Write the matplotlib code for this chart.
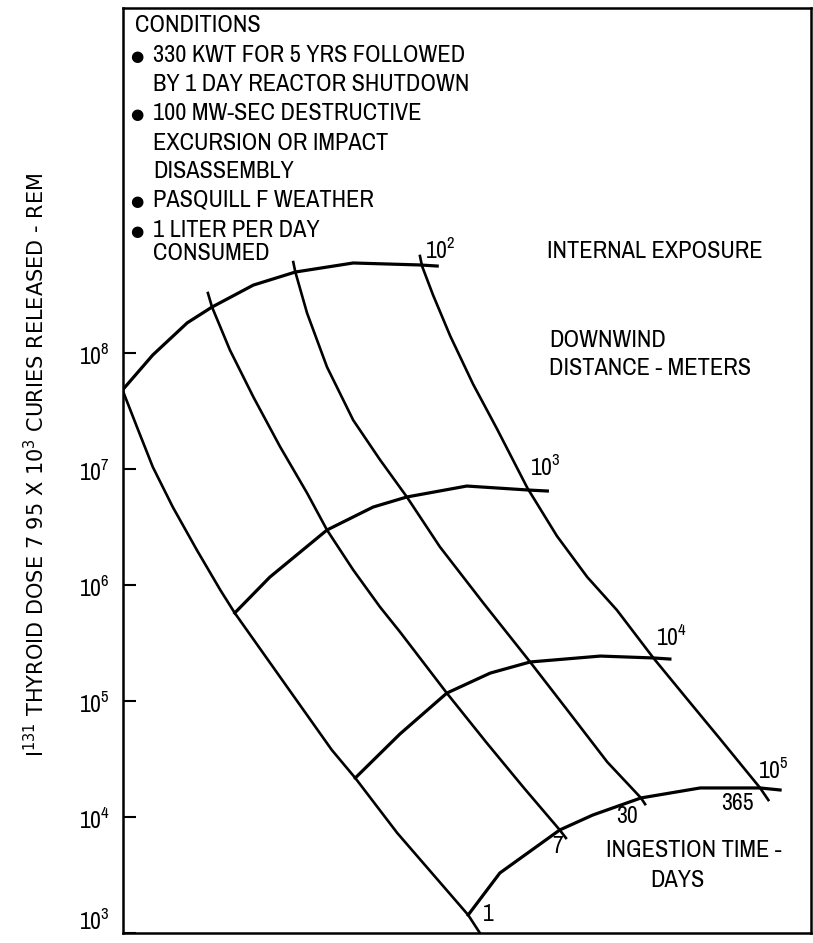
import matplotlib
matplotlib.use('Agg')
import matplotlib.pyplot as plt
from matplotlib import font_manager
from matplotlib.font_manager import FontProperties

# x is just a horizontal position (the chart has no x scale), y is dose in rem
# ingestion time curves (days)
day1_x = [0.0, 2.1, 4.4, 7.3, 10.8, 14.2, 16.3, 23.5, 30.4, 33.8, 39.9, 50.2, 51.9]
day1_y = [4.80e7, 2.30e7, 1.04e7, 4.70e6, 2.00e6, 9.06e5, 5.74e5, 1.43e5, 3.78e4,
          2.17e4, 7.28e3, 1.43e3, 1.0e3]

day7_x = [12.4, 13.0, 15.6, 19.0, 22.9, 26.8, 29.7, 33.5, 37.4, 40.3, 47.1, 52.9,
          58.3, 63.5, 64.4]
day7_y = [3.29e8, 2.49e8, 1.06e8, 4.18e7, 1.55e7, 6.21e6, 2.98e6, 1.35e6, 6.46e5,
          3.94e5, 1.17e5, 4.35e4, 1.78e4, 7.73e3, 6.59e3]

day30_x = [24.8, 25.1, 26.8, 29.7, 33.5, 37.4, 41.3, 46.1, 52.4, 59.2, 64.6, 70.4,
           75.3, 75.9]
day30_y = [6.08e8, 4.99e8, 2.21e8, 7.57e7, 2.64e7, 1.20e7, 5.74e6, 2.13e6, 7.00e5,
           2.17e5, 8.36e4, 2.98e4, 1.46e4, 1.29e4]

day365_x = [43.2, 43.5, 45.1, 47.6, 50.9, 54.4, 58.8, 63.1, 67.5, 71.8, 77.1, 82.0,
            86.8, 92.6, 93.8]
day365_y = [6.86e8, 5.62e8, 3.16e8, 1.40e8, 5.41e7, 2.21e7, 6.86e6, 2.64e6, 1.17e6,
            6.08e5, 2.35e5, 1.04e5, 4.70e4, 1.78e4, 1.40e4]

# downwind distance curves (meters)
m100_x = [0.0, 4.4, 9.4, 13.0, 19.0, 25.1, 33.5, 43.2, 45.7]
m100_y = [4.80e7, 9.62e7, 1.82e8, 2.49e8, 3.85e8, 4.99e8, 5.97e8, 5.74e8, 5.62e8]

m1000_x = [16.3, 21.4, 29.7, 36.4, 41.3, 50.0, 58.9, 61.7]
m1000_y = [5.74e5, 1.17e6, 2.98e6, 4.70e6, 5.74e6, 7.13e6, 6.59e6, 6.46e6]

m10k_x = [33.8, 40.3, 47.1, 53.4, 59.2, 69.4, 77.1, 79.5]
m10k_y = [2.17e4, 5.20e4, 1.17e5, 1.74e5, 2.17e5, 2.44e5, 2.35e5, 2.30e5]

m100k_x = [50.2, 54.8, 63.5, 68.3, 75.3, 83.9, 92.6, 95.5]
m100k_y = [1.43e3, 3.29e3, 7.73e3, 1.04e4, 1.46e4, 1.78e4, 1.78e4, 1.71e4]

dist_labels = [2, 3, 4, 5]
dist_label_x = [43.9, 59.2, 77.5, 92.3]
dist_label_y = [6.6e8, 8.87e6, 3.04e5, 2.17e4]

day_labels = ['1', '7', '30', '365']
day_label_x = [52.4, 62.4, 71.7, 86.9]
day_label_y = [1.27e3, 4.9e3, 8.87e3, 1.15e4]

ytick_exp = [3, 4, 5, 6, 7, 8]

conditions = [
    (True, '330 KWT FOR 5 YRS FOLLOWED'),
    (False, 'BY 1 DAY REACTOR SHUTDOWN'),
    (True, '100 MW-SEC DESTRUCTIVE'),
    (False, 'EXCURSION OR IMPACT'),
    (False, 'DISASSEMBLY'),
    (True, 'PASQUILL F WEATHER'),
    (True, '1 LITER PER DAY'),
    (False, 'CONSUMED'),
]


def pick_narrow():
    # the original lettering is a condensed sans; use one if any is installed
    fl = font_manager.fontManager.ttflist
    for f in fl:
        if ('Narrow' in f.name or 'Condensed' in f.name) and f.style == 'normal' \
                and f.weight in (400, 'normal', 'regular'):
            return FontProperties(fname=f.fname), 17.5
    for f in fl:
        if f.stretch in ('condensed', 'semi-condensed') and f.style == 'normal' \
                and f.weight in (400, 'normal', 'regular'):
            return FontProperties(fname=f.fname), 17.5
    return FontProperties(family='DejaVu Sans'), 13.5


narrow, fs = pick_narrow()
fs_num = fs - 0.5


def nprop(size):
    p = narrow.copy()
    p.set_size(size)
    return p


fig = plt.figure(figsize=(8.13, 9.43), dpi=100)
ax = fig.add_axes([0.1507, 0.0106, 0.8469, 0.9809])

for xs, ys in [(day1_x, day1_y), (day7_x, day7_y), (day30_x, day30_y), (day365_x, day365_y)]:
    ax.plot(xs, ys, color='black', lw=1.9, solid_joinstyle='round')
for xs, ys in [(m100_x, m100_y), (m1000_x, m1000_y), (m10k_x, m10k_y), (m100k_x, m100k_y)]:
    ax.plot(xs, ys, color='black', lw=2.3, solid_joinstyle='round')

ax.set_yscale('log')
ax.set_xlim(0, 100)
ax.set_ylim(1e3, 10 ** 10.974)
ax.set_xticks([])
ax.set_yticks([10.0 ** e for e in ytick_exp],
              labels=['$\\mathregular{10^{%d}}$' % e for e in ytick_exp])
ax.yaxis.set_minor_locator(matplotlib.ticker.NullLocator())
ax.tick_params(axis='y', direction='in', length=9, width=1.5, pad=9)
for lab in ax.get_yticklabels():
    lab.set_fontproperties(nprop(fs_num))
ax.get_yticklabels()[0].set_verticalalignment('bottom')
for sp in ax.spines.values():
    sp.set_linewidth(1.8)

for e, x, y in zip(dist_labels, dist_label_x, dist_label_y):
    ax.text(x, y, '$\\mathregular{10^{%d}}$' % e, fontproperties=nprop(fs_num),
            ha='left', va='baseline')
for s, x, y in zip(day_labels, day_label_x, day_label_y):
    ax.text(x, y, s, fontproperties=nprop(fs_num), ha='left', va='baseline')

tf = ax.transAxes
ax.text(0.018, 0.974, 'CONDITIONS', fontproperties=nprop(fs), transform=tf, va='baseline')
line_y = [0.9416, 0.9103, 0.8789, 0.8465, 0.8162, 0.7849, 0.7524, 0.7276]
for (bullet, txt), y in zip(conditions, line_y):
    if bullet:
        ax.text(0.021, y + 0.001, '\u25cf', fontsize=11, transform=tf, ha='center',
                va='baseline', family='DejaVu Sans')
    ax.text(0.0443, y, txt, fontproperties=nprop(fs), transform=tf, va='baseline')

ax.text(0.6166, 0.7297, 'INTERNAL EXPOSURE', fontproperties=nprop(fs), transform=tf, va='baseline')
ax.text(0.6195, 0.6335, 'DOWNWIND', fontproperties=nprop(fs), transform=tf, va='baseline')
ax.text(0.6195, 0.6032, 'DISTANCE - METERS', fontproperties=nprop(fs), transform=tf, va='baseline')
ax.text(0.702, 0.0822, 'INGESTION TIME -', fontproperties=nprop(fs), transform=tf, va='baseline')
ax.text(0.766, 0.0497, 'DAYS', fontproperties=nprop(fs), transform=tf, va='baseline')

fig.text(0.0443, 0.507,
         '$\\mathregular{I^{131}}$ THYROID DOSE 7 95 X $\\mathregular{10^{3}}$ CURIES RELEASED - REM',
         rotation=90, ha='center', va='center', fontsize=15, family='DejaVu Sans')

fig.savefig('out.png', dpi=100)
